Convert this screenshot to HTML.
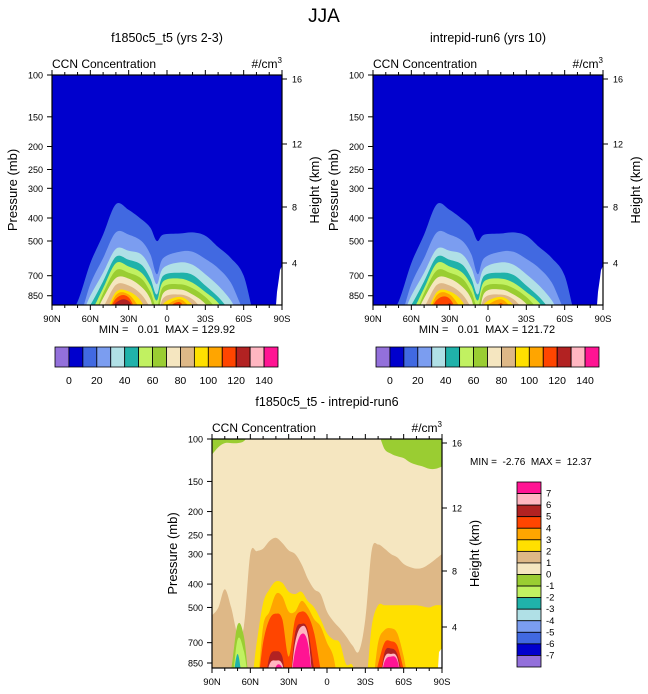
<!DOCTYPE html>
<html><head><meta charset="utf-8">
<style>
html,body{margin:0;padding:0;background:#fff;}
svg{display:block;font-family:"Liberation Sans",Arial,sans-serif;}
text{white-space:pre;}
</style></head>
<body>
<svg id="root" width="648" height="694" viewBox="0 0 648 694" xmlns="http://www.w3.org/2000/svg">
<text x="324" y="22" font-size="19" text-anchor="middle">JJA</text>
<g id="plots"></g>
</svg>
<script>
const N = 1100;
const latsA = [90,80,70,60,50,40,30,20,13,8,3,-10,-20,-30,-40,-50,-60,-70,-80,-90];
const levA10  = [N,N,900,620,470,350,370,405,440,500,470,465,460,475,530,590,700,N,N,N];
const levA20  = [N,N,N,760,590,460,470,500,570,690,590,555,555,595,650,750,980,N,N,N];
const levA30  = [N,N,N,850,680,540,550,570,650,760,650,615,630,690,770,890,N,N,N,N];
const levA40  = [N,N,N,930,740,583,600,630,720,840,700,680,695,770,860,990,N,N,N,N];
const levA50  = [N,N,N,1000,790,620,640,680,770,890,740,720,750,820,910,N,N,N,N,N];
const levA60  = [N,N,N,N,830,665,680,720,820,950,780,760,790,860,980,N,N,N,N,N];
const levA70  = [N,N,N,N,870,716,720,780,880,N,830,800,840,920,N,N,N,N,N,N];
const levA80  = [N,N,N,N,950,765,770,840,960,N,870,840,880,1000,N,N,N,N,N,N];
const levA90  = [N,N,N,N,1050,820,815,900,N,N,920,860,930,N,N,N,N,N,N,N];
const levA100 = [N,N,N,N,N,845,840,980,N,N,960,880,980,N,N,N,N,N,N,N];
const levA110 = [N,N,N,N,N,875,865,N,N,N,1000,905,N,N,N,N,N,N,N,N];
const levA120 = [N,N,N,N,N,910,895,N,N,N,N,940,N,N,N,N,N,N,N,N];
const levB110 = [N,N,N,N,N,885,875,N,N,N,N,915,N,N,N,N,N,N,N,N];
const levB120 = [N,N,N,N,N,N,915,N,N,N,N,960,N,N,N,N,N,N,N,N];

const latsD = [90,85,80,75,70,65,60,55,50,45,40,35,30,25,20,15,10,5,0,-5,-10,-15,-20,-25,-30,-35,-40,-45,-50,-55,-60,-65,-70,-75,-80,-85,-90];
const dBurly = [540,500,420,500,640,600,300,292,285,265,257,270,290,300,330,380,420,440,520,570,610,660,720,760,560,290,274,285,300,310,330,340,345,342,330,315,300];
const dGold  = [N,N,N,N,N,N,N,700,480,420,390,395,430,440,430,470,500,560,640,680,700,860,870,N,N,600,490,490,490,490,490,490,490,495,500,490,490];
const dOrange= [N,N,N,N,N,N,N,N,600,520,440,450,520,520,470,500,560,600,700,800,N,N,N,N,N,N,700,620,610,640,800,N,N,N,N,N,N];
const dORed  = [N,N,N,N,N,N,N,N,700,560,530,560,800,560,520,540,640,900,N,N,N,N,N,N,N,N,860,700,690,720,900,N,N,N,N,N,N];
const dFire  = [N,N,N,N,N,N,N,N,N,800,760,800,N,640,585,620,900,N,N,N,N,N,N,N,N,N,N,770,740,780,1000,N,N,N,N,N,N];
const dPink  = [N,N,N,N,N,N,N,N,N,860,830,860,N,700,600,650,N,N,N,N,N,N,N,N,N,N,N,810,780,810,N,N,N,N,N,N,N];
const dDeep  = [N,N,N,N,N,N,N,N,N,N,880,890,N,760,645,700,N,N,N,N,N,N,N,N,N,N,N,840,800,830,N,N,N,N,N,N,N];
const dGreen = [N,N,N,900,590,660,N,N,N,N,N,N,N,N,N,N,N,N,N,N,N,N,N,N,N,N,N,N,N,N,N,N,N,N,N,N,N];
const dGYel  = [N,N,N,N,680,760,N,N,N,N,N,N,N,N,N,N,N,N,N,N,N,N,N,N,N,N,N,N,N,N,N,N,N,N,N,N,N];
const dTeal  = [N,N,N,N,780,N,N,N,N,N,N,N,N,N,N,N,N,N,N,N,N,N,N,N,N,N,N,N,N,N,N,N,N,N,N,N,N];
const T = 95;
const dTopGreen = [116,108,104,104,104,102,T,T,T,T,T,T,T,T,T,T,T,T,T,T,T,T,T,T,T,T,T,110,115,118,120,125,128,130,133,133,130];

const xTickLabels = ["90N","60N","30N","0","30S","60S","90S"];
const pTicks = [100,150,200,250,300,400,500,700,850];
const hTicksTop = [16,12,8,4];
const cbLabelsTop = ["0","20","40","60","80","100","120","140"];
const cbLabelsDiff = ["7","6","5","4","3","2","1","0","-1","-2","-3","-4","-5","-6","-7"];

const C = {purple:"#9370DB",mblue:"#0000CD",royal:"#4169E1",corn:"#7B9DF0",powder:"#B0E0E6",teal:"#20B2AA",gyel:"#C1F161",ygreen:"#9ACD32",wheat:"#F5E6C0",burly:"#DEB887",gold:"#FFE000",orange:"#FFA500",ored:"#FF4500",fire:"#B22222",pink:"#FFB6C1",deep:"#FF1493"};
const cbColors = [C.purple,C.mblue,C.royal,C.corn,C.powder,C.teal,C.gyel,C.ygreen,C.wheat,C.burly,C.gold,C.orange,C.ored,C.fire,C.pink,C.deep];

const NS="http://www.w3.org/2000/svg";
const plots=document.getElementById('plots');
function mk(tag,attrs,parent){const e=document.createElementNS(NS,tag);for(const k in attrs)e.setAttribute(k,attrs[k]);(parent||plots).appendChild(e);return e;}
function txt(x,y,s,size,anchor,parent,name){const e=mk('text',{x:x,y:y,'font-size':size,'text-anchor':anchor||'start'},parent);e.textContent=s;
 
 
 return e;}

function spline(pts){
 let d="M"+pts[0][0]+","+pts[0][1];
 for(let i=0;i<pts.length-1;i++){
  const p0=pts[Math.max(0,i-1)],p1=pts[i],p2=pts[i+1],p3=pts[Math.min(pts.length-1,i+2)];
  const c1=[p1[0]+(p2[0]-p0[0])/6,p1[1]+(p2[1]-p0[1])/6];
  const c2=[p2[0]-(p3[0]-p1[0])/6,p2[1]-(p3[1]-p1[1])/6];
  d+=" C"+c1[0].toFixed(1)+","+c1[1].toFixed(1)+" "+c2[0].toFixed(1)+","+c2[1].toFixed(1)+" "+p2[0].toFixed(1)+","+p2[1].toFixed(1);
 }
 return d;
}

function panel(o){
 const g=mk('g',{});
 
 
 const x0=o.x,y0=o.y,w=230,h=o.h,dec=o.dec;
 const X=lat=>x0+(90-lat)*w/180;
 const Y=p=>y0+Math.log10(p/100)*dec;
 const cid='clip-'+o.name;
 const cp=mk('clipPath',{id:cid},g);mk('rect',{x:x0,y:y0,width:w,height:h},cp);
 const area=mk('g',{'clip-path':'url(#'+cid+')'},g);
 
 
 const bg=mk('rect',{x:x0,y:y0,width:w,height:h,fill:o.bg},area);
 
 
 o.layers.forEach(L=>{
  const pts=o.lats.map((lat,i)=>[X(lat),Math.min(Y(L.v[i]),y0+h+25)]);
  let d=spline(pts);
  if(L.fromTop){d+=" L"+X(-90)+","+(y0-20)+" L"+X(90)+","+(y0-20)+" Z";}
  else{d+=" L"+X(-90)+","+(y0+h+30)+" L"+X(90)+","+(y0+h+30)+" Z";}
  const pth=mk('path',{d:d,fill:L.c},area);
  
  
 });
 if(o.white){const wp=mk('polygon',{points:o.white,fill:'#fff'},area);
  
  }
 const fr=mk('rect',{x:x0,y:y0,width:w,height:h,fill:'none',stroke:'#000','stroke-width':1.2},g);
 
 
 for(let lat=90;lat>=-90;lat-=10){
  const maj=lat%30===0,x=X(lat),l=maj?5:3;
  mk('line',{x1:x,y1:y0+h,x2:x,y2:y0+h+l,stroke:'#000','stroke-width':1},g);
  mk('line',{x1:x,y1:y0,x2:x,y2:y0-l,stroke:'#000','stroke-width':1},g);
 }
 xTickLabels.forEach((s,i)=>txt(X(90-30*i),y0+h+17,s,9.5,'middle',g,'x-tick-label'));
 pTicks.forEach(p=>{const y=Y(p);mk('line',{x1:x0,y1:y,x2:x0-5,y2:y,stroke:'#000','stroke-width':1},g);
  txt(x0-9,y+3.5,String(p),9,'end',g,'y-tick-label');});
 hTicksTop.forEach((hv,i)=>{const y=o.hy[i];mk('line',{x1:x0+w,y1:y,x2:x0+w+5,y2:y,stroke:'#000','stroke-width':1},g);
  txt(x0+w+10,y+3.5,String(hv),9,'start',g,'height-tick-label');});
 txt(x0+w/2,y0-33,o.title,12.5,'middle',g,'panel-title');
 txt(x0,y0-7,'CCN Concentration',12,'start',g,'variable-name');
 const u=txt(x0+w,y0-7,'#/cm',12,'end',g,'units');
 const sup=mk('tspan',{dy:-5,'font-size':8},u);sup.textContent='3';
 const yl=txt(0,0,'Pressure (mb)',13,'middle',g,'y-axis-title');yl.setAttribute('transform','translate('+(x0-35)+','+(y0+h/2)+') rotate(-90)');
 const hl=txt(0,0,'Height (km)',13,'middle',g,'height-axis-title');hl.setAttribute('transform','translate('+(x0+w+37)+','+(y0+h/2)+') rotate(-90)');
 return g;
}

const layersA = [
 {n:10,v:levA10,c:C.royal},{n:20,v:levA20,c:C.corn},{n:30,v:levA30,c:C.powder},{n:40,v:levA40,c:C.teal},
 {n:50,v:levA50,c:C.gyel},{n:60,v:levA60,c:C.ygreen},{n:70,v:levA70,c:C.wheat},{n:80,v:levA80,c:C.burly},
 {n:90,v:levA90,c:C.gold},{n:100,v:levA100,c:C.orange},{n:110,v:levA110,c:C.ored},{n:120,v:levA120,c:C.fire}];
const layersB = layersA.slice(0,10).concat([{n:110,v:levB110,c:C.ored},{n:120,v:levB120,c:C.fire}]);
const whiteTop=(x)=>[[x+224,305],[x+225,292],[x+226,285],[x+227,278],[x+228,270],[x+230,266],[x+232,266],[x+232,310]].map(p=>p.join(',')).join(' ');

panel({name:'panel-f1850c5',x:52,y:75,h:230,dec:237.5,lats:latsA,bg:C.mblue,layers:layersA,title:'f1850c5_t5 (yrs 2-3)',hy:[79,144,207,263],white:whiteTop(52)});
panel({name:'panel-intrepid',x:373,y:75,h:230,dec:237.5,lats:latsA,bg:C.mblue,layers:layersB,title:'intrepid-run6 (yrs 10)',hy:[79,144,207,263],white:whiteTop(373)});
panel({name:'panel-difference',x:212,y:439,h:229,dec:241,lats:latsD,bg:C.wheat,title:'f1850c5_t5 - intrepid-run6',hy:[443,508,571,627],
 white:[[438,668],[439,652],[442,648],[444,648],[444,672]].map(p=>p.join(',')).join(' '),
 layers:[{n:1,v:dBurly,c:C.burly},{n:2,v:dGold,c:C.gold},{n:3,v:dOrange,c:C.orange},{n:4,v:dORed,c:C.ored},
  {n:5,v:dFire,c:C.fire},{n:6,v:dPink,c:C.pink},{n:7,v:dDeep,c:C.deep},
  {n:'m0',v:dGreen,c:C.ygreen},{n:'m1',v:dGYel,c:C.gyel},{n:'m2',v:dTeal,c:C.teal},
  {n:'top-m0',v:dTopGreen,c:C.ygreen,fromTop:true}]});

txt(167,333,'MIN =   0.01  MAX = 129.92',11,'middle',null,'stats-text');
txt(487,333,'MIN =   0.01  MAX = 121.72',11,'middle',null,'stats-text');
txt(470,465,'MIN =  -2.76  MAX =  12.37',10,'start',null,'stats-text');

function hbar(x0,name){
 const g=mk('g',{});
 const bw=223/16;
 cbColors.forEach((c,i)=>{const r=mk('rect',{x:x0+i*bw,y:347,width:bw,height:20,fill:c,stroke:'#000','stroke-width':0.8},g);
  });
 cbLabelsTop.forEach((s,i)=>txt(x0+(1+2*i)*bw,384,s,10.5,'middle',g,'colorbar-label'));
}
hbar(55,'colorbar-f1850c5');hbar(376,'colorbar-intrepid');
(function(){
 const g=mk('g',{});
 const bh=(667-482)/16;
 cbColors.slice().reverse().forEach((c,i)=>{const r=mk('rect',{x:517,y:482+i*bh,width:24,height:bh,fill:c,stroke:'#000','stroke-width':0.8},g);
  });
 cbLabelsDiff.forEach((s,i)=>txt(546,482+(i+1)*bh+3,s,9.5,'start',g,'colorbar-label'));
})();
</script>
</body></html>
